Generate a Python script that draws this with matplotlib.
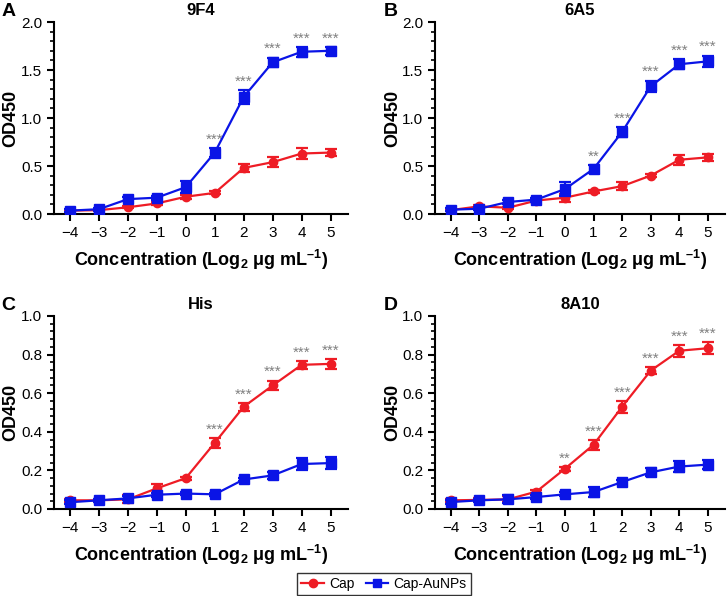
import matplotlib
matplotlib.use('Agg')
import matplotlib.pyplot as plt
from matplotlib.lines import Line2D
from matplotlib.ticker import AutoMinorLocator, MultipleLocator

plt.rcParams['font.family'] = ['Liberation Sans', 'DejaVu Sans']
plt.rcParams['mathtext.fontset'] = 'custom'
plt.rcParams['mathtext.rm'] = 'Liberation Sans'
plt.rcParams['mathtext.bf'] = 'Liberation Sans:bold'

conc = [-4, -3, -2, -1, 0, 1, 2, 3, 4, 5]
titles = ['9F4', '6A5', 'His', '8A10']
letters = ['A', 'B', 'C', 'D']

cap_mean = [
    [0.035, 0.04, 0.07, 0.11, 0.18, 0.22, 0.48, 0.54, 0.63, 0.64],
    [0.04, 0.08, 0.065, 0.14, 0.17, 0.235, 0.29, 0.40, 0.565, 0.59],
    [0.045, 0.045, 0.05, 0.107, 0.16, 0.343, 0.53, 0.64, 0.747, 0.752],
    [0.045, 0.047, 0.05, 0.09, 0.209, 0.333, 0.53, 0.717, 0.82, 0.833],
]
cap_err = [
    [0.01, 0.01, 0.01, 0.015, 0.02, 0.015, 0.04, 0.05, 0.06, 0.04],
    [0.01, 0.01, 0.01, 0.015, 0.04, 0.015, 0.04, 0.015, 0.05, 0.035],
    [0.008, 0.008, 0.02, 0.025, 0.008, 0.025, 0.02, 0.025, 0.02, 0.025],
    [0.008, 0.008, 0.015, 0.008, 0.01, 0.025, 0.03, 0.02, 0.03, 0.03],
]
aunp_mean = [
    [0.035, 0.05, 0.155, 0.17, 0.28, 0.64, 1.22, 1.58, 1.69, 1.70],
    [0.045, 0.055, 0.125, 0.15, 0.26, 0.47, 0.855, 1.33, 1.56, 1.59],
    [0.035, 0.045, 0.055, 0.074, 0.08, 0.076, 0.153, 0.174, 0.233, 0.238],
    [0.036, 0.045, 0.05, 0.062, 0.076, 0.088, 0.14, 0.19, 0.22, 0.23],
]
aunp_err = [
    [0.015, 0.015, 0.02, 0.02, 0.06, 0.05, 0.07, 0.05, 0.05, 0.04],
    [0.015, 0.015, 0.02, 0.02, 0.07, 0.04, 0.05, 0.06, 0.05, 0.06],
    [0.01, 0.008, 0.01, 0.01, 0.008, 0.008, 0.008, 0.02, 0.03, 0.03],
    [0.01, 0.008, 0.02, 0.01, 0.01, 0.025, 0.01, 0.02, 0.03, 0.025],
]
# significance marks: index into conc -> label
stars = [
    {5: '***', 6: '***', 7: '***', 8: '***', 9: '***'},
    {5: '**', 6: '***', 7: '***', 8: '***', 9: '***'},
    {5: '***', 6: '***', 7: '***', 8: '***', 9: '***'},
    {4: '**', 5: '***', 6: '***', 7: '***', 8: '***', 9: '***'},
]
ylims = [2.0, 2.0, 1.0, 1.0]
ysteps = [0.5, 0.5, 0.2, 0.2]

fig = plt.figure(figsize=(7.27, 5.96), dpi=100)
W, H = 727, 596
boxes = [(54, 22, 348, 214), (435, 22, 725, 214), (54, 316, 348, 509), (435, 316, 725, 509)]

red = '#ee1c25'
blue = '#0a14e6'
for k in range(4):
    x0, y0, x1, y1 = boxes[k]
    ax = fig.add_axes([x0 / W, 1 - y1 / H, (x1 - x0) / W, (y1 - y0) / H])
    ax.errorbar(conc, cap_mean[k], yerr=cap_err[k], color=red, marker='o', ms=6, lw=1.6,
                capsize=4, elinewidth=1.6, capthick=1.6, zorder=3)
    ax.errorbar(conc, aunp_mean[k], yerr=aunp_err[k], color=blue, marker='s', ms=6.5, lw=1.6,
                capsize=4, elinewidth=1.6, capthick=1.6, zorder=4)
    for i, s in stars[k].items():
        top = max(cap_mean[k][i] + cap_err[k][i], aunp_mean[k][i] + aunp_err[k][i])
        ax.annotate(s, (conc[i], top), xytext=(0, 1), textcoords='offset points',
                    ha='center', va='bottom', color='#808080', fontsize=11)
    ax.set_xlim(-4.55, 5.6)
    ax.set_ylim(0, ylims[k])
    ax.set_xticks(conc)
    ax.yaxis.set_major_locator(MultipleLocator(ysteps[k]))
    ax.yaxis.set_minor_locator(AutoMinorLocator(5))
    ax.yaxis.set_major_formatter(plt.FormatStrFormatter('%.1f'))
    for sp in ['top', 'right']:
        ax.spines[sp].set_visible(False)
    for sp in ['left', 'bottom']:
        ax.spines[sp].set_linewidth(1.5)
    ax.tick_params(axis='both', which='major', width=1.5, length=5, labelsize=11)
    ax.tick_params(axis='y', which='minor', width=1.2, length=3)
    ax.set_ylabel('OD450', fontsize=13, fontweight='bold')
    ax.yaxis.set_label_coords(-0.118, 0.5)
    ax.set_xlabel(r'Concentration (Log$_\mathbf{2}$ μg mL$^\mathbf{–1}$)', fontsize=13,
                  fontweight='bold', labelpad=6)
    ax.set_title(titles[k], fontsize=12, fontweight='bold', pad=5)
    ax.text(-0.178, 1.1, letters[k], transform=ax.transAxes,
            fontsize=14, fontweight='bold', ha='left', va='top')

handles = [Line2D([], [], color=red, marker='o', ms=6, lw=1.6),
           Line2D([], [], color=blue, marker='s', ms=6, lw=1.6)]
fig.legend(handles, ['Cap', 'Cap-AuNPs'], loc='center', bbox_to_anchor=(384 / W, 1 - 584 / H),
           ncol=2, frameon=True, fancybox=False, edgecolor='black', fontsize=10,
           handlelength=1.6, columnspacing=0.8, handletextpad=0.4, borderpad=0.3)
fig.savefig('out.png', dpi=100)
